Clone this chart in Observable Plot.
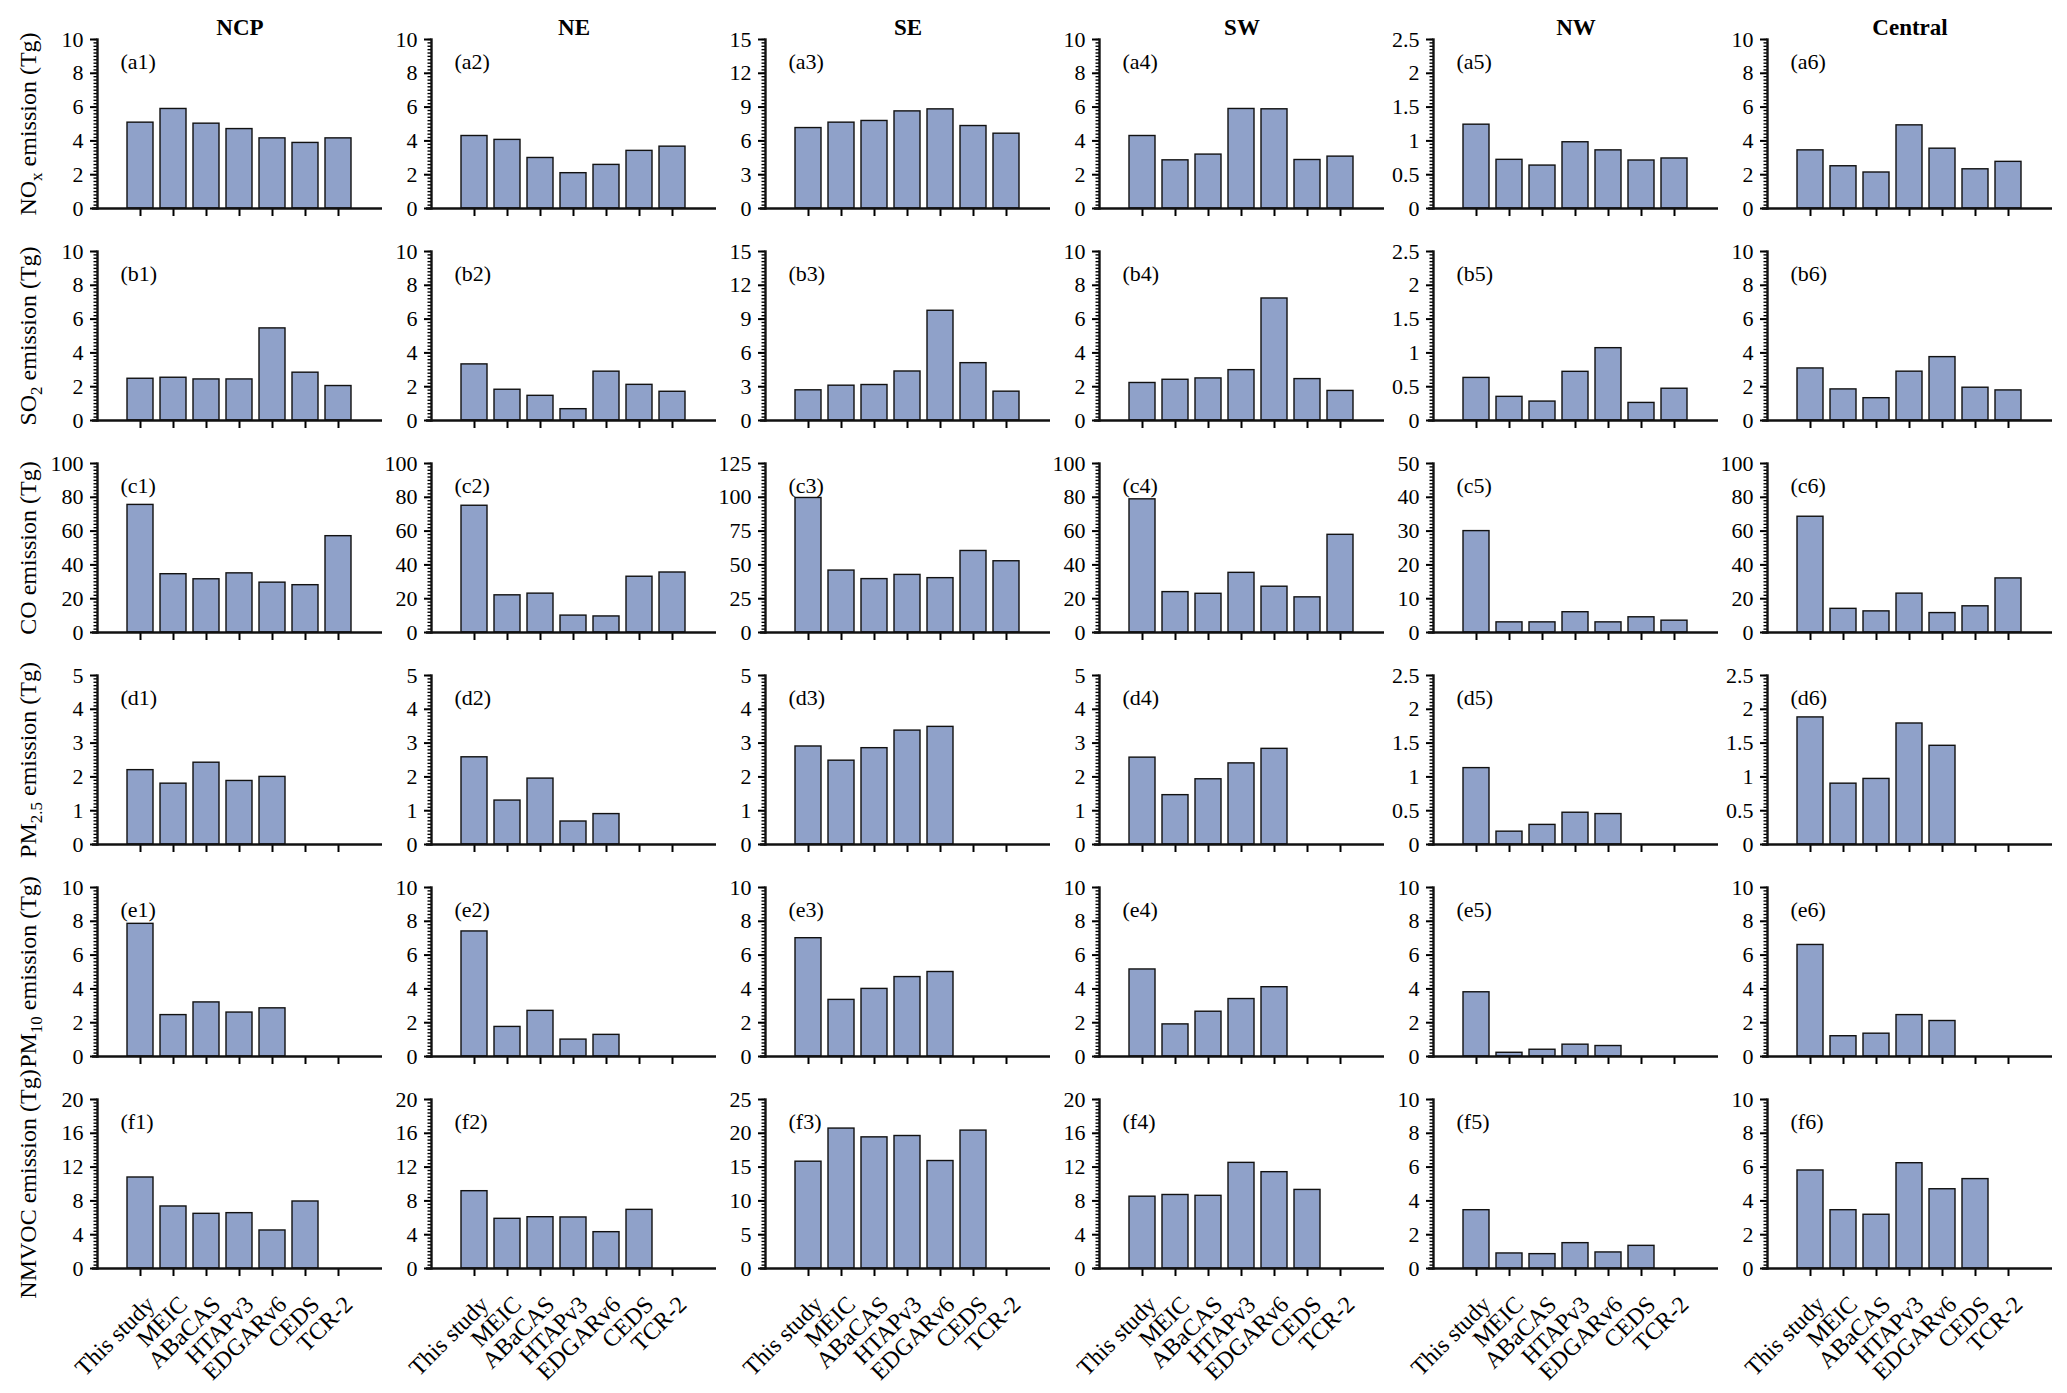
<!DOCTYPE html>
<html>
<head>
<meta charset="utf-8">
<script src="https://cdn.jsdelivr.net/npm/d3@7"></script>
<script src="https://cdn.jsdelivr.net/npm/@observablehq/plot@0.6"></script>
<style>
html, body { margin: 0; padding: 0; background: #fff; }
#chart { position: relative; width: 2067px; height: 1393px; font-family: "Liberation Serif", "Times New Roman", serif; color: #000; }
.ylab { position: absolute; font-size: 24px; white-space: nowrap; transform: translate(-50%, -50%) rotate(-90deg); line-height: 1; }
.ylab sub { font-size: 17px; vertical-align: -6px; line-height: 0; }
.panel { position: absolute; }
</style>
</head>
<body>
<div id="chart"></div>
<script>
// ---------- data ----------
const sources = ["This study", "MEIC", "ABaCAS", "HTAPv3", "EDGARv6", "CEDS", "TCR-2"];
const regions = ["NCP", "NE", "SE", "SW", "NW", "Central"];
const rowLetters = ["a", "b", "c", "d", "e", "f"];
const speciesLabels = [
  "NO<sub>x</sub> emission (Tg)",
  "SO<sub>2</sub> emission (Tg)",
  "CO emission (Tg)",
  "PM<sub>2.5</sub> emission (Tg)",
  "PM<sub>10</sub> emission (Tg)",
  "NMVOC emission (Tg)"
];

// values per region (NCP, NE, SE, SW, NW, Central), in source order; null = no data
const noxValues = [
  [5.08, 5.89, 5.02, 4.70, 4.15, 3.88, 4.15],
  [4.29, 4.06, 2.99, 2.09, 2.58, 3.41, 3.66],
  [7.14, 7.62, 7.77, 8.62, 8.80, 7.32, 6.64],
  [4.29, 2.85, 3.19, 5.89, 5.87, 2.87, 3.07],
  [1.24, 0.72, 0.635, 0.98, 0.86, 0.71, 0.74],
  [3.44, 2.50, 2.13, 4.92, 3.54, 2.32, 2.76]
];
const so2Values = [
  [2.47, 2.53, 2.43, 2.43, 5.45, 2.83, 2.04],
  [3.32, 1.82, 1.46, 0.67, 2.89, 2.11, 1.70],
  [2.68, 3.09, 3.15, 4.35, 9.74, 5.09, 2.56],
  [2.22, 2.41, 2.49, 2.98, 7.22, 2.45, 1.75],
  [0.63, 0.35, 0.28, 0.72, 1.07, 0.26, 0.47],
  [3.08, 1.84, 1.32, 2.89, 3.75, 1.94, 1.78]
];
const coValues = [
  [75.5, 34.5, 31.5, 35, 29.5, 28, 57],
  [75, 22, 23, 10, 9.5, 33, 35.5],
  [99.5, 45.8, 39.5, 42.6, 40.2, 60.3, 52.7],
  [78.8, 23.9, 22.9, 35.3, 27.1, 20.8, 57.8],
  [30, 3, 3, 6, 3, 4.5, 3.5],
  [68.5, 14, 12.5, 23, 11.5, 15.5, 32]
];
const pm25Values = [
  [2.2, 1.8, 2.42, 1.88, 2.0, null, null],
  [2.58, 1.3, 1.95, 0.68, 0.9, null, null],
  [2.9, 2.48, 2.85, 3.37, 3.48, null, null],
  [2.57, 1.46, 1.93, 2.4, 2.83, null, null],
  [1.13, 0.19, 0.29, 0.47, 0.45, null, null],
  [1.88, 0.9, 0.97, 1.79, 1.46, null, null]
];
const pm10Values = [
  [7.85, 2.45, 3.2, 2.6, 2.85, null, null],
  [7.4, 1.75, 2.7, 1.0, 1.28, null, null],
  [7.0, 3.35, 4.0, 4.7, 5.0, null, null],
  [5.15, 1.9, 2.65, 3.4, 4.1, null, null],
  [3.8, 0.22, 0.4, 0.7, 0.62, null, null],
  [6.6, 1.2, 1.35, 2.45, 2.1, null, null]
];
const nmvocValues = [
  [10.77, 7.34, 6.47, 6.55, 4.50, 7.93, null],
  [9.15, 5.88, 6.07, 6.04, 4.30, 6.94, null],
  [15.8, 20.7, 19.4, 19.6, 15.9, 20.4, null],
  [8.5, 8.7, 8.6, 12.5, 11.4, 9.3, null],
  [3.45, 0.89, 0.85, 1.50, 0.95, 1.34, null],
  [5.80, 3.45, 3.18, 6.23, 4.69, 5.29, null]
];
const allValues = [noxValues, so2Values, coValues, pm25Values, pm10Values, nmvocValues];

// y-axis maxima and major tick steps per species row and region column
const yMax = [
  [10, 10, 15, 10, 2.5, 10],
  [10, 10, 15, 10, 2.5, 10],
  [100, 100, 125, 100, 50, 100],
  [5, 5, 5, 5, 2.5, 2.5],
  [10, 10, 10, 10, 10, 10],
  [20, 20, 25, 20, 10, 10]
];
const yStep = [
  [2, 2, 3, 2, 0.5, 2],
  [2, 2, 3, 2, 0.5, 2],
  [20, 20, 25, 20, 10, 20],
  [1, 1, 1, 1, 0.5, 0.5],
  [2, 2, 2, 2, 2, 2],
  [4, 4, 5, 4, 2, 2]
];

// ---------- layout ----------
const chart = document.getElementById("chart");
const colX0 = 40, colStep = 334;   // svg left edges
const rowTop = 39, rowStep = 212;  // frame tops
const frameW = 285, frameH = 169;
const mL = 57, mR = 3, mT = 30;
const barFill = "#8fa1c9", ink = "#111";
const fmt = d3.format("~g");

for (let r = 0; r < 6; r++) {
  // y-axis title (HTML for subscripts)
  const lab = document.createElement("div");
  lab.className = "ylab";
  lab.innerHTML = speciesLabels[r];
  lab.style.left = "28px";
  lab.style.top = (rowTop + r * rowStep + frameH / 2) + "px";
  chart.appendChild(lab);

  for (let c = 0; c < 6; c++) {
    const last = r === 5;
    const mB = last ? 150 : 14;
    const max = yMax[r][c], step = yStep[r][c];
    const data = sources
      .map((s, i) => ({source: s, value: allValues[r][c][i]}))
      .filter(d => d.value != null);
    const major = d3.range(0, max + step / 2, step);
    const minor = d3.range(0, max + step / 20, step / 10);

    const marks = [
      Plot.barY(data, {x: "source", y: "value", fill: barFill, stroke: ink, strokeWidth: 1.4, inset: 0}),
      Plot.axisY(minor, {tickSize: 3.5, strokeWidth: 1.4, tickFormat: () => "", label: null}),
      Plot.axisY(major, {tickSize: 7, strokeWidth: 2, tickPadding: 7, tickFormat: fmt, fontSize: 22, label: null}),
      Plot.axisX(sources, {tickSize: 8, strokeWidth: 2, tickFormat: () => "", label: null}),
      Plot.frame({anchor: "left", strokeWidth: 2.4, stroke: ink}),
      Plot.ruleY([0], {insetLeft: -5, strokeWidth: 2.4, stroke: ink}),
      Plot.text([`(${rowLetters[r]}${c + 1})`], {frameAnchor: "top-left", lineAnchor: "middle", dx: 23, dy: 22, fontSize: 22, textAnchor: "start"})
    ];
    if (last) {
      marks.push(Plot.axisX(sources, {tickSize: 0, tickPadding: 14, tickRotate: -45, fontSize: 24, dx: 10, dy: 18, label: null}));
    }
    if (r === 0) {
      marks.push(Plot.text([regions[c]], {frameAnchor: "top", lineAnchor: "middle", dy: -12, fontSize: 23, fontWeight: "bold"}));
    }

    const svg = Plot.plot({
      width: mL + frameW + mR,
      height: mT + frameH + mB,
      marginLeft: mL, marginRight: mR, marginTop: mT, marginBottom: mB,
      style: {background: "transparent", fontFamily: "'Liberation Serif', 'Times New Roman', serif", color: "#000", overflow: "visible"},
      x: {type: "band", domain: sources, paddingInner: 0.2, paddingOuter: 0.86, axis: null},
      y: {domain: [0, max], axis: null},
      marks
    });
    svg.classList.add("panel");
    svg.style.left = (colX0 + c * colStep) + "px";
    svg.style.top = (rowTop + r * rowStep - mT) + "px";
    chart.appendChild(svg);
  }
}
</script>
</body>
</html>
